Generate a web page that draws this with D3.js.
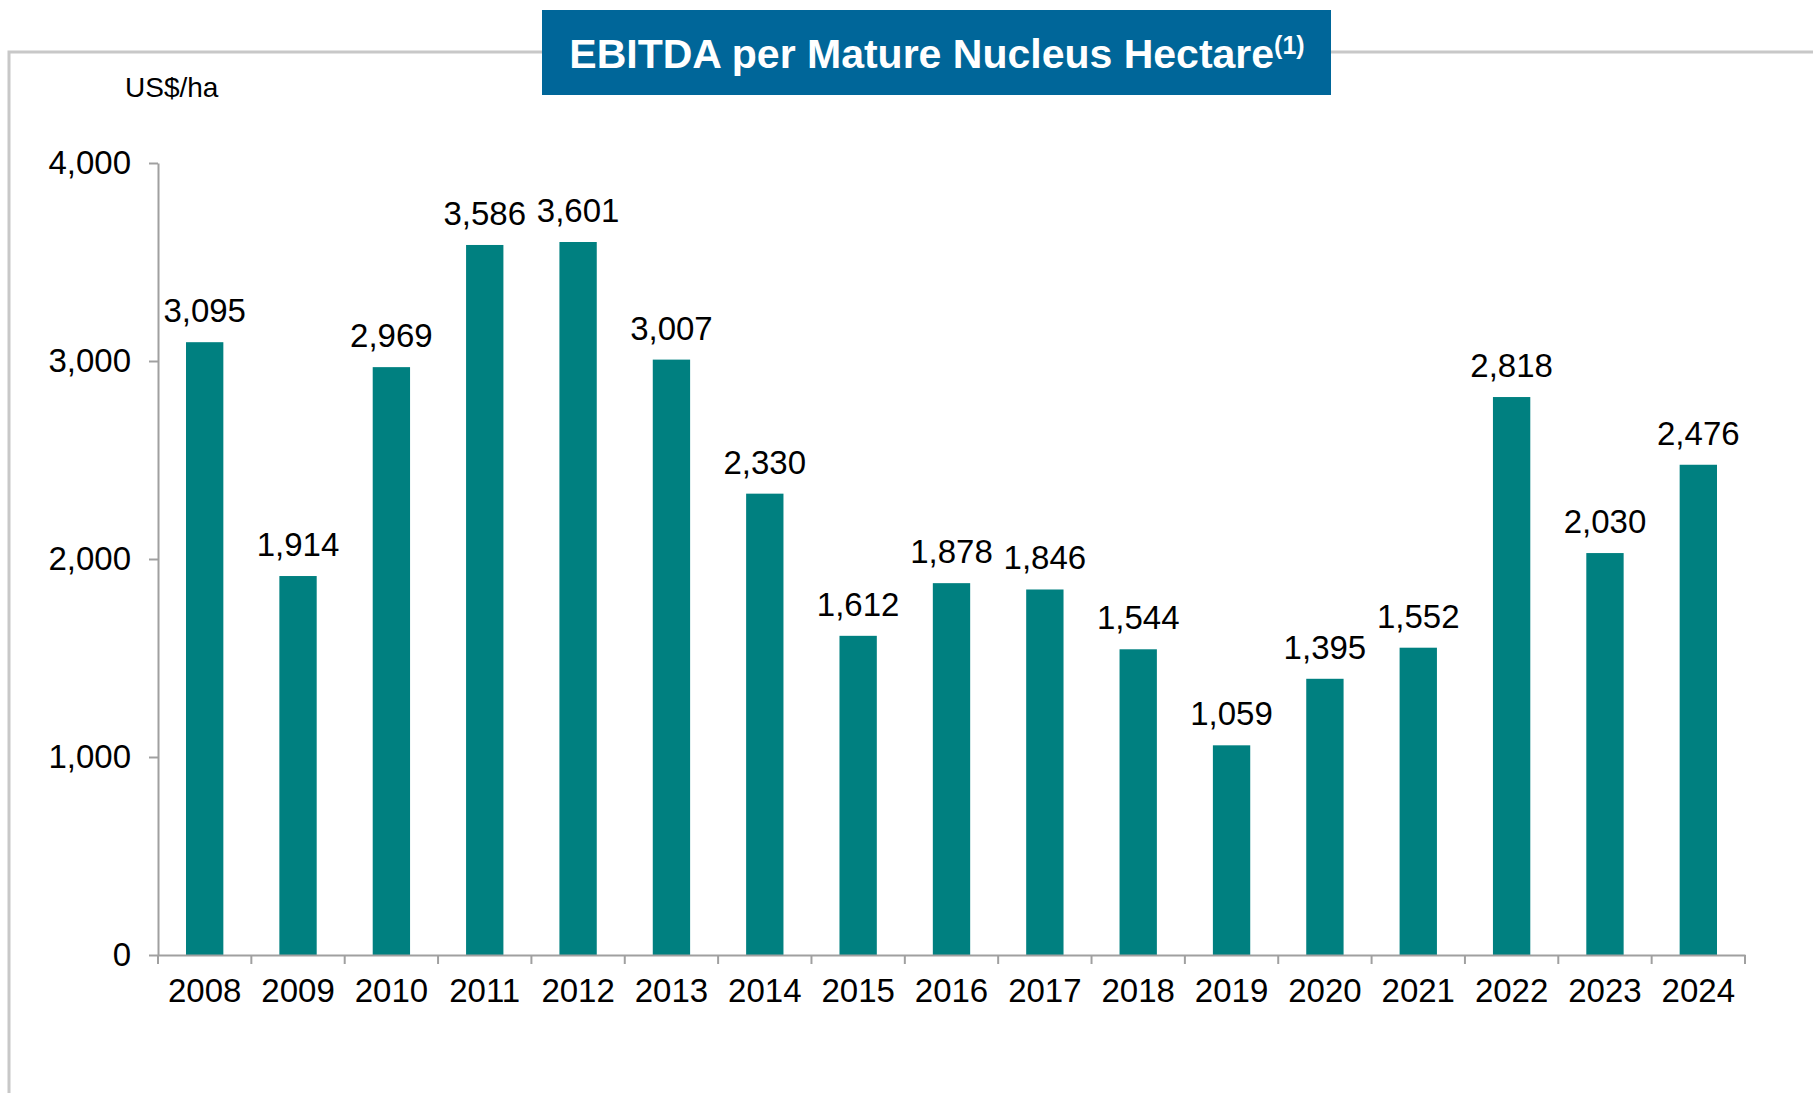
<!DOCTYPE html>
<html>
<head>
<meta charset="utf-8">
<script src="https://cdn.jsdelivr.net/npm/d3@7"></script>
<style>
  body { margin: 0; background: #fff; }
  svg text { font-family: "Liberation Sans", Arial, sans-serif; }
</style>
</head>
<body>
<div id="chart"></div>
<script>
var years = ["2008", "2009", "2010", "2011", "2012", "2013", "2014", "2015", "2016",
	"2017", "2018", "2019", "2020", "2021", "2022", "2023", "2024"];
var ebitda = [3095, 1914, 2969, 3586, 3601, 3007, 2330, 1612, 1878,
	1846, 1544, 1059, 1395, 1552, 2818, 2030, 2476];
var yTicks = [0, 1000, 2000, 3000, 4000];
var titleText = "EBITDA per Mature Nucleus Hectare",
	titleNote = "(1)",
	unitLabel = "US$/ha";

var width = 1813,
	height = 1093,
	plotLeft = 158,
	plotRight = 1745,
	plotTop = 163,
	plotBottom = 955,
	axisColor = "#a0a0a0",
	barColor = "#008080",
	labelSize = 33;

var data = years.map(function(y, i){ return {year: y, value: ebitda[i]}; });

var svg = d3.select("#chart")
	.append("svg")
	.attr("width", width)
	.attr("height", height);

// frame around the panel
svg.append("path")
	.attr("d", "M9," + height + "V52H" + width)
	.attr("fill", "none")
	.attr("stroke", "#c8c8c8")
	.attr("stroke-width", 3);

// title box
svg.append("rect")
	.attr("x", 542).attr("y", 10)
	.attr("width", 789).attr("height", 85)
	.attr("fill", "#006699");

var title = svg.append("text")
	.attr("x", 937).attr("y", 68)
	.attr("text-anchor", "middle")
	.attr("fill", "#fff")
	.attr("font-weight", "bold")
	.attr("font-size", 41)
	.text(titleText);
title.append("tspan")
	.attr("font-size", 25)
	.attr("dy", -14)
	.text(titleNote);

svg.append("text")
	.attr("x", 125).attr("y", 97)
	.attr("font-size", 28)
	.text(unitLabel);

var x = d3.scaleBand()
	.domain(years)
	.range([plotLeft, plotRight])
	.paddingInner(0.6)
	.paddingOuter(0.3);

var y = d3.scaleLinear()
	.domain([0, 4000])
	.range([plotBottom, plotTop]);

// y axis
var yAxis = svg.append("g")
	.attr("transform", "translate(" + plotLeft + ",0)")
	.call(d3.axisLeft(y).tickValues(yTicks).tickFormat(d3.format(","))
		.tickSize(9).tickSizeOuter(0).tickPadding(18));
yAxis.selectAll("path, line").attr("stroke", axisColor).attr("stroke-width", 2);
yAxis.selectAll("text").attr("font-size", labelSize).attr("fill", "#000")
	.attr("font-family", "'Liberation Sans', Arial, sans-serif");

// bars
svg.selectAll("rect.bar")
	.data(data)
	.enter()
	.append("rect")
	.attr("class", "bar")
	.attr("x", function(d){ return x(d.year); })
	.attr("width", x.bandwidth())
	.attr("y", function(d){ return y(d.value); })
	.attr("height", function(d){ return plotBottom - y(d.value); })
	.attr("fill", barColor);

// x axis with ticks between the categories
var xAxis = svg.append("g")
	.attr("transform", "translate(0," + plotBottom + ")")
	.call(d3.axisBottom(x).tickSize(0).tickSizeOuter(0).tickPadding(24));
xAxis.select(".domain").attr("stroke", axisColor).attr("stroke-width", 2);
xAxis.selectAll("text").attr("font-size", labelSize).attr("fill", "#000")
	.attr("font-family", "'Liberation Sans', Arial, sans-serif");

var gap = (x.step() - x.bandwidth()) / 2;
var edges = years.map(function(yr){ return x(yr) - gap; })
	.concat([x(years[years.length - 1]) + x.bandwidth() + gap]);
xAxis.selectAll("line.sep")
	.data(edges)
	.enter()
	.append("line")
	.attr("class", "sep")
	.attr("x1", function(d){ return d; })
	.attr("x2", function(d){ return d; })
	.attr("y1", 0).attr("y2", 9)
	.attr("stroke", axisColor)
	.attr("stroke-width", 2);

// value labels
svg.selectAll("text.value")
	.data(data)
	.enter()
	.append("text")
	.attr("class", "value")
	.attr("x", function(d){ return x(d.year) + x.bandwidth() / 2; })
	.attr("y", function(d){ return y(d.value) - 20; })
	.attr("text-anchor", "middle")
	.attr("font-size", labelSize)
	.text(function(d){ return d3.format(",")(d.value); });
</script>
</body>
</html>
